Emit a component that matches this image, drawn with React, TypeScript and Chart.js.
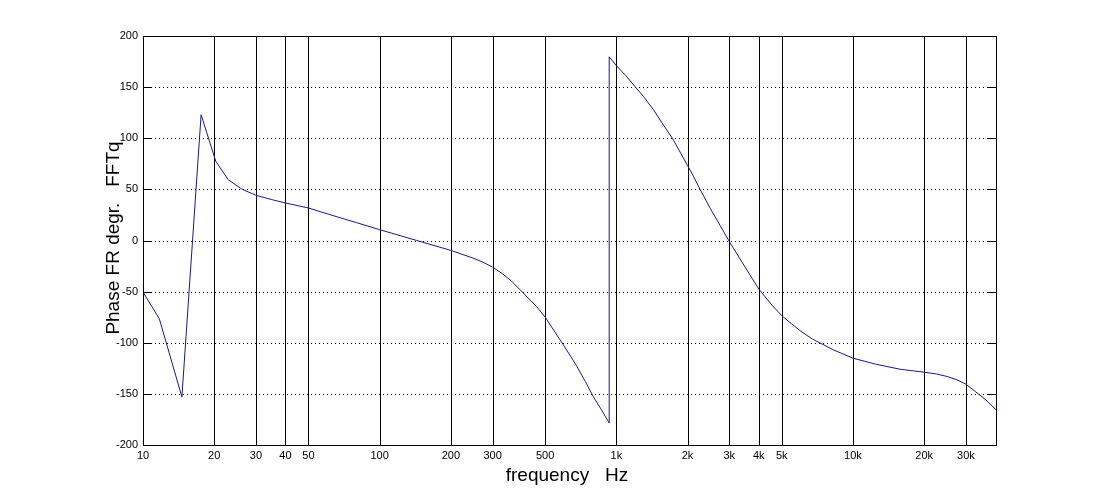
import React, { useEffect, useRef } from "react";
import { Chart, registerables } from "chart.js";

Chart.register(...registerables);

// Frequency (Hz) and phase (degrees) samples
const freqs = [
  10, 11.72, 14.6, 17.6, 20.3, 22.9, 26.1, 30, 35, 40, 50, 61.6, 80, 100, 143,
  200, 248, 270, 300, 330, 360, 392, 460, 500, 550, 597, 640, 682, 740, 799,
  865, 933, 933, 1000, 1100, 1199, 1301, 1434, 1580, 1732, 1859, 2000, 2117,
  2259, 2500, 2750, 3000, 3500, 4000, 4500, 5000, 5500, 6000, 6750, 8270, 10000,
  12500, 15800, 20000, 22500, 25000, 27500, 30000, 33000, 36500, 40600,
];
const phases = [
  -50.5, -76.5, -153, 123, 77.5, 59.5, 50.4, 44.2, 40, 36.7, 31.8, 25.3, 17.4,
  10.6, 0.1, -9.7, -17.2, -20.7, -26, -32.5, -39.5, -48.2, -64.5, -74.9, -89.5,
  -102, -113, -123.3, -138, -152.7, -165.5, -178.5, 179.7, 171, 161, 150.5,
  141, 128, 113, 99.4, 86.5, 73.3, 62.8, 50, 31, 14.4, -0.9, -26, -47.5,
  -62, -73.5, -81.5, -88.5, -96.5, -107, -115.1, -121, -125.9, -128.8, -130.5, -133,
  -136.3, -140.5, -148, -156, -166.4,
];

const xTicks = [10, 20, 30, 40, 50, 100, 200, 300, 500, 1000, 2000, 3000, 4000, 5000, 10000, 20000, 30000];
const xTickLabels = ["10", "20", "30", "40", "50", "100", "200", "300", "500", "1k", "2k", "3k", "4k", "5k", "10k", "20k", "30k"];
const yTicks = [-200, -150, -100, -50, 0, 50, 100, 150, 200];
const yTickLabels = ["-200", "-150", "-100", "-50", "0", "50", "100", "150", "200"];

const xTitle = "frequency   Hz";
const yTitle = "Phase FR degr.   FFTq";

const FONT = '"Liberation Sans", Arial, Helvetica, sans-serif';

const matlabAxes = {
  id: "matlabAxes",
  beforeDatasetsDraw(chart: any) {
    const { ctx, chartArea, scales } = chart;
    const { left, right, top, bottom } = chartArea;
    ctx.save();
    ctx.strokeStyle = "#000";
    ctx.lineWidth = 1;
    ctx.setLineDash([1, 3]);
    yTicks.forEach((v) => {
      if (v === yTicks[0] || v === yTicks[yTicks.length - 1]) return;
      const yy = Math.round(scales.y.getPixelForValue(v)) + 0.5;
      ctx.beginPath();
      ctx.moveTo(left, yy);
      ctx.lineTo(right, yy);
      ctx.stroke();
    });
    ctx.setLineDash([]);
    xTicks.forEach((v, i) => {
      if (i === 0) return;
      const xx = Math.round(scales.x.getPixelForValue(v)) + 0.5;
      ctx.beginPath();
      ctx.moveTo(xx, top);
      ctx.lineTo(xx, bottom);
      ctx.stroke();
    });
    ctx.restore();
  },
  afterDatasetsDraw(chart: any) {
    const { ctx, chartArea, scales } = chart;
    const { left, right, top, bottom } = chartArea;
    ctx.save();
    ctx.strokeStyle = "#000";
    ctx.lineWidth = 1;
    ctx.setLineDash([]);
    ctx.strokeRect(left + 0.5, top + 0.5, right - left - 1, bottom - top);
    yTicks.forEach((v) => {
      const yy = Math.round(scales.y.getPixelForValue(v)) + 0.5;
      ctx.beginPath();
      ctx.moveTo(left, yy);
      ctx.lineTo(left + 9, yy);
      ctx.moveTo(right - 9, yy);
      ctx.lineTo(right, yy);
      ctx.stroke();
    });
    ctx.restore();
  },
  afterDraw(chart: any) {
    const { ctx } = chart;
    ctx.save();
    ctx.fillStyle = "#000";
    ctx.font = `19px ${FONT}`;
    ctx.textAlign = "center";
    ctx.textBaseline = "alphabetic";
    ctx.fillText(xTitle, 567, 481);
    ctx.translate(118.5, 238);
    ctx.rotate(-Math.PI / 2);
    ctx.fillText(yTitle, 0, 0);
    ctx.restore();
  },
};

export default function App() {
  const ref = useRef<HTMLCanvasElement>(null);

  useEffect(() => {
    if (!ref.current) return;
    const data = freqs.map((f, i) => ({ x: f, y: phases[i] }));
    const chart = new Chart(ref.current, {
      type: "line",
      data: {
        datasets: [
          {
            data,
            borderColor: "#18188a",
            borderWidth: 1,
            pointRadius: 0,
            tension: 0,
            fill: false,
          },
        ],
      },
      options: {
        responsive: false,
        animation: false,
        events: [],
        layout: { padding: { top: 36, right: 103, left: 0, bottom: 0 } },
        plugins: { legend: { display: false }, tooltip: { enabled: false } },
        scales: {
          x: {
            type: "logarithmic",
            min: 10,
            max: 40600,
            afterBuildTicks: (s: any) => {
              s.ticks = xTicks.map((v) => ({ value: v }));
            },
            afterFit: (s: any) => {
              s.height = 55;
            },
            ticks: {
              autoSkip: false,
              maxRotation: 0,
              padding: 4,
              color: "#000",
              font: { family: FONT, size: 11 },
              callback: (_v: any, i: number) => xTickLabels[i],
            },
            grid: { display: false, drawTicks: false },
            border: { display: false },
          },
          y: {
            type: "linear",
            min: -200,
            max: 200,
            afterBuildTicks: (s: any) => {
              s.ticks = yTicks.map((v) => ({ value: v }));
            },
            afterFit: (s: any) => {
              s.width = 143;
            },
            ticks: {
              padding: 5,
              color: "#000",
              font: { family: FONT, size: 11 },
              callback: (_v: any, i: number) => yTickLabels[i],
            },
            grid: { display: false, drawTicks: false },
            border: { display: false },
          },
        },
      },
      plugins: [matlabAxes],
    });
    return () => chart.destroy();
  }, []);

  return (
    <div style={{ position: "absolute", left: 0, top: 0, width: 1100, height: 500, background: "#fff" }}>
      <canvas ref={ref} width={1100} height={500} style={{ display: "block" }} />
    </div>
  );
}
